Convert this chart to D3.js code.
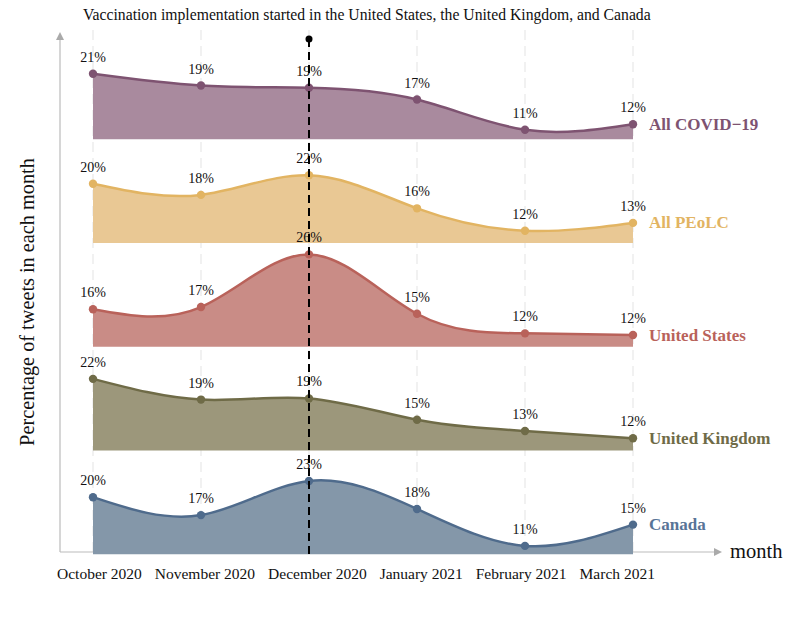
<!DOCTYPE html>
<html>
<head>
<meta charset="utf-8">
<script src="https://cdn.jsdelivr.net/npm/d3@7"></script>
<style>
  html, body { margin: 0; padding: 0; background: #fff; }
  svg { display: block; }
  text { font-family: "Liberation Serif", "DejaVu Serif", serif; }
</style>
</head>
<body>
<svg id="chart" width="800" height="643"></svg>
<script>
// ---- data ----
const months = ["October 2020", "November 2020", "December 2020", "January 2021", "February 2021", "March 2021"];
const seriesNames = ["All COVID\u221219", "All PEoLC", "United States", "United Kingdom", "Canada"];
const covidValues  = [21.2, 19.1, 18.7, 16.6, 11.2, 12.2];
const peolcValues  = [20.1, 18.1, 21.6, 15.7, 11.7, 13.1];
const usValues     = [16.2, 16.6, 26.0, 15.4, 11.9, 11.6];
const ukValues     = [22.3, 18.6, 18.8, 15.0, 13.0, 11.7];
const canadaValues = [19.7, 16.5, 22.6, 17.6, 11.0, 14.8];
const lineColors  = ["#7e5371", "#e2b462", "#b9625a", "#6f6b47", "#4f6b8c"];
const fillColors  = ["#a98a9e", "#e9c894", "#c98c86", "#9c977b", "#8497a9"];
const labelColors = ["#7e5371", "#e2b462", "#b9625a", "#6f6b47", "#587497"];
const markedMonth = "December 2020";
const titleText = "Vaccination implementation started in the United States, the United Kingdom, and Canada";
const yTitle = "Percentage of tweets in each month";
const xTitle = "month";

const allValues = [covidValues, peolcValues, usValues, ukValues, canadaValues];

// ---- scales ----
const svg = d3.select("#chart");
const x = d3.scalePoint().domain(months).range([93, 633]);
const baseline = d3.scaleLinear().domain([0, seriesNames.length - 1]).range([139.3, 554.3]);
const h = d3.scaleLinear().domain([9.5, 27]).range([0, -98]);

const axisX = 60, axisY = 552;

// title
svg.append("text").attr("x", 83).attr("y", 20)
  .attr("font-size", 15.7).attr("fill", "#111").text(titleText);

// grid lines
svg.append("g").selectAll("line").data(months).join("line")
  .attr("x1", d => x(d)).attr("x2", d => x(d))
  .attr("y1", 30).attr("y2", axisY)
  .attr("stroke", "#e3e3e3").attr("stroke-width", 1)
  .attr("stroke-dasharray", "10,6");

// axes
const defs = svg.append("defs");
defs.append("marker").attr("id", "arr").attr("viewBox", "0 0 10 10")
  .attr("refX", 0).attr("refY", 5).attr("markerWidth", 8).attr("markerHeight", 8)
  .attr("markerUnits", "userSpaceOnUse").attr("orient", "auto")
  .append("path").attr("d", "M0,0L10,5L0,10Z").attr("fill", "#aaa");

svg.append("line").attr("x1", axisX).attr("x2", axisX).attr("y1", axisY).attr("y2", 40)
  .attr("stroke", "#bbb").attr("stroke-width", 1.2).attr("marker-end", "url(#arr)");
svg.append("line").attr("x1", axisX).attr("x2", 714).attr("y1", axisY).attr("y2", axisY)
  .attr("stroke", "#bbb").attr("stroke-width", 1.2).attr("marker-end", "url(#arr)");

svg.append("text").attr("x", 730).attr("y", 558).attr("font-size", 20.5).attr("fill", "#111").text(xTitle);

svg.append("text")
  .attr("transform", "translate(34,302) rotate(-90)")
  .attr("text-anchor", "middle").attr("font-size", 20.3).attr("fill", "#111").text(yTitle);

// ridges
const curve = d3.curveNatural;
allValues.forEach((vals, i) => {
  const b = baseline(i);
  const g = svg.append("g");
  const pts = vals.map((v, j) => ({ m: months[j], v }));
  const area = d3.area().x(d => x(d.m)).y0(b).y1(d => b + h(d.v)).curve(curve);
  const line = d3.line().x(d => x(d.m)).y(d => b + h(d.v)).curve(curve);
  g.append("path").datum(pts).attr("d", area).attr("fill", fillColors[i]);
  g.append("path").datum(pts).attr("d", line).attr("fill", "none")
    .attr("stroke", lineColors[i]).attr("stroke-width", 2.5);
  g.selectAll("circle").data(pts).join("circle")
    .attr("cx", d => x(d.m)).attr("cy", d => b + h(d.v)).attr("r", 4.2)
    .attr("fill", lineColors[i]);
  g.selectAll("text.val").data(pts).join("text").attr("class", "val")
    .attr("x", d => x(d.m)).attr("y", d => b + h(d.v) - 12)
    .attr("text-anchor", "middle").attr("font-size", 14).attr("fill", "#111")
    .text(d => Math.round(d.v) + "%");
  const last = pts[pts.length - 1];
  g.append("text").attr("x", x(last.m) + 16).attr("y", b + h(last.v))
    .attr("dominant-baseline", "central")
    .attr("font-size", 17).attr("font-weight", "bold").attr("fill", labelColors[i])
    .text(seriesNames[i]);
});

// marker line
const mx = x(markedMonth);
svg.append("line").attr("x1", mx).attr("x2", mx).attr("y1", 39).attr("y2", 556)
  .attr("stroke", "#000").attr("stroke-width", 2).attr("stroke-dasharray", "8,5");
svg.append("circle").attr("cx", mx).attr("cy", 39).attr("r", 3.5).attr("fill", "#000");

// x tick labels (laid out as a row)
let cursor = 57;
months.forEach(m => {
  const t = svg.append("text").attr("x", cursor).attr("y", 579)
    .attr("font-size", 15.5).attr("fill", "#111").text(m);
  cursor += t.node().getComputedTextLength() + 13;
});
</script>
</body>
</html>
